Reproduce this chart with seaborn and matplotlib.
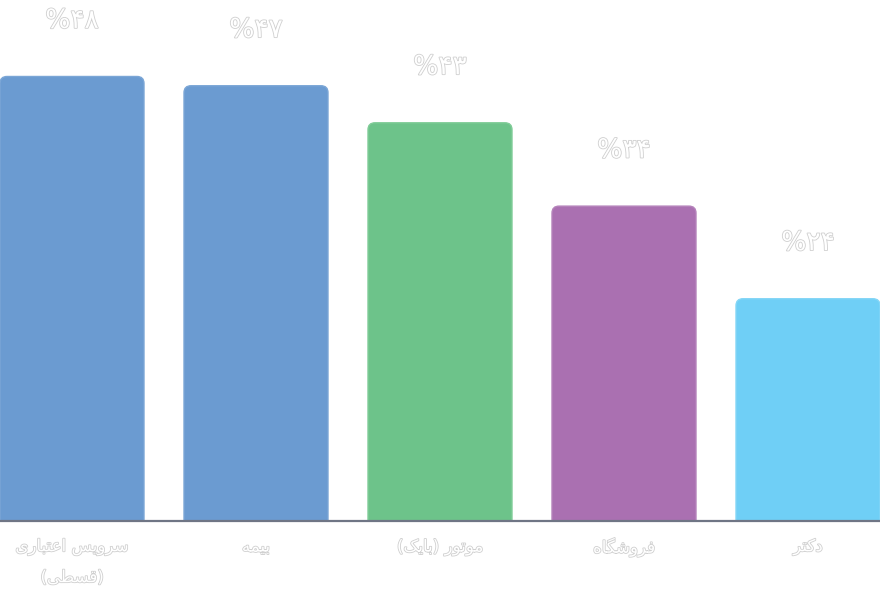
import matplotlib
matplotlib.use("Agg")
import matplotlib.pyplot as plt
import matplotlib.patheffects as pe
from matplotlib.patches import FancyBboxPatch
import seaborn as sns
import pandas as pd

# data
categories = ["سرویس اعتباری\n(قسطی)", "بیمه", "موتور (بایک)", "فروشگاه", "دکتر"]
values = [48, 47, 43, 34, 24]
value_labels = ["%۴۸", "%۴۷", "%۴۳", "%۳۴", "%۲۴"]
colors = ["#6b9bd1", "#6b9bd1", "#6dc38a", "#aa70b1", "#6fcff6"]
edges = ["#7ba6d6", "#7ba6d6", "#80cc98", "#b583bb", "#84d6f6"]

# minimal arabic/persian shaping (matplotlib has no bidi/shaping)
FORMS = {
    "ا": ("\uFE8D", "\uFE8E", None, None),
    "ب": ("\uFE8F", "\uFE90", "\uFE91", "\uFE92"),
    "ت": ("\uFE95", "\uFE96", "\uFE97", "\uFE98"),
    "د": ("\uFEA9", "\uFEAA", None, None),
    "ر": ("\uFEAD", "\uFEAE", None, None),
    "س": ("\uFEB1", "\uFEB2", "\uFEB3", "\uFEB4"),
    "ش": ("\uFEB5", "\uFEB6", "\uFEB7", "\uFEB8"),
    "ط": ("\uFEC1", "\uFEC2", "\uFEC3", "\uFEC4"),
    "ع": ("\uFEC9", "\uFECA", "\uFECB", "\uFECC"),
    "ف": ("\uFED1", "\uFED2", "\uFED3", "\uFED4"),
    "ق": ("\uFED5", "\uFED6", "\uFED7", "\uFED8"),
    "ل": ("\uFEDD", "\uFEDE", "\uFEDF", "\uFEE0"),
    "م": ("\uFEE1", "\uFEE2", "\uFEE3", "\uFEE4"),
    "ه": ("\uFEE9", "\uFEEA", "\uFEEB", "\uFEEC"),
    "و": ("\uFEED", "\uFEEE", None, None),
    "ی": ("\uFBFC", "\uFBFD", "\uFBFE", "\uFBFF"),
    "ک": ("\uFB8E", "\uFB8F", "\uFB90", "\uFB91"),
    "گ": ("\uFB92", "\uFB93", "\uFB94", "\uFB95"),
}


def shape_line(line):
    out = []
    for i, ch in enumerate(line):
        if ch not in FORMS:
            out.append(ch)
            continue
        prev = line[i - 1] if i > 0 else None
        nxt = line[i + 1] if i + 1 < len(line) else None
        join_prev = prev in FORMS and FORMS[prev][2] is not None
        join_next = nxt in FORMS and FORMS[ch][2] is not None
        iso, fin, ini, med = FORMS[ch]
        if join_prev and join_next:
            out.append(med)
        elif join_prev:
            out.append(fin)
        elif join_next:
            out.append(ini)
        else:
            out.append(iso)
    s = "".join(reversed(out))
    return s.translate(str.maketrans("()", ")("))


def shape(text):
    return "\n".join(shape_line(l) for l in text.split("\n"))


sns.set_style("white")
plt.rcParams["font.family"] = ["DejaVu Sans"]

df = pd.DataFrame({"cat": categories, "val": values})

fig = plt.figure(figsize=(8.8, 5.92), dpi=100)
ax = fig.add_axes([0, 0.12, 1, 0.88])

sns.barplot(data=df, x="cat", y="val", hue="cat", palette=colors,
            legend=False, width=0.7826, ax=ax)

# swap plain bars for rounded ones
ymax = 56.26
x_per_px = 1 / 184
y_per_px = ymax / 521
for p, fc, ec in zip(list(ax.patches), colors, edges):
    x0, w, h = p.get_x(), p.get_width(), p.get_height()
    p.remove()
    rb = FancyBboxPatch((x0, -2), w, h + 2,
                        boxstyle=f"round,pad=0,rounding_size={7 * x_per_px}",
                        mutation_aspect=y_per_px / x_per_px,
                        facecolor=fc, edgecolor=ec, linewidth=1)
    ax.add_patch(rb)

outline = [pe.Stroke(linewidth=1.2, foreground="#cfcfcf"), pe.Normal()]

for i, (v, lab) in enumerate(zip(values, value_labels)):
    ax.annotate(lab, (i, v), xytext=(0, 40), textcoords="offset points",
                ha="center", va="center", fontsize=19, color="white",
                path_effects=outline)

ax.set_xlim(-0.3913, 4.3913)
ax.set_ylim(0, ymax)
ax.axhline(0, color="#6f7585", linewidth=1.6, clip_on=False)

ax.set_xticks(range(len(categories)))
ax.set_xticklabels([shape(c) for c in categories], fontsize=12, color="white",
                   linespacing=1.9, va="top")
for t in ax.get_xticklabels():
    t.set_path_effects(outline)
ax.tick_params(axis="x", length=0, pad=12)
ax.set_yticks([])
ax.set_xlabel("")
ax.set_ylabel("")
sns.despine(ax=ax, left=True, bottom=True)

fig.savefig("out.png", dpi=100)
